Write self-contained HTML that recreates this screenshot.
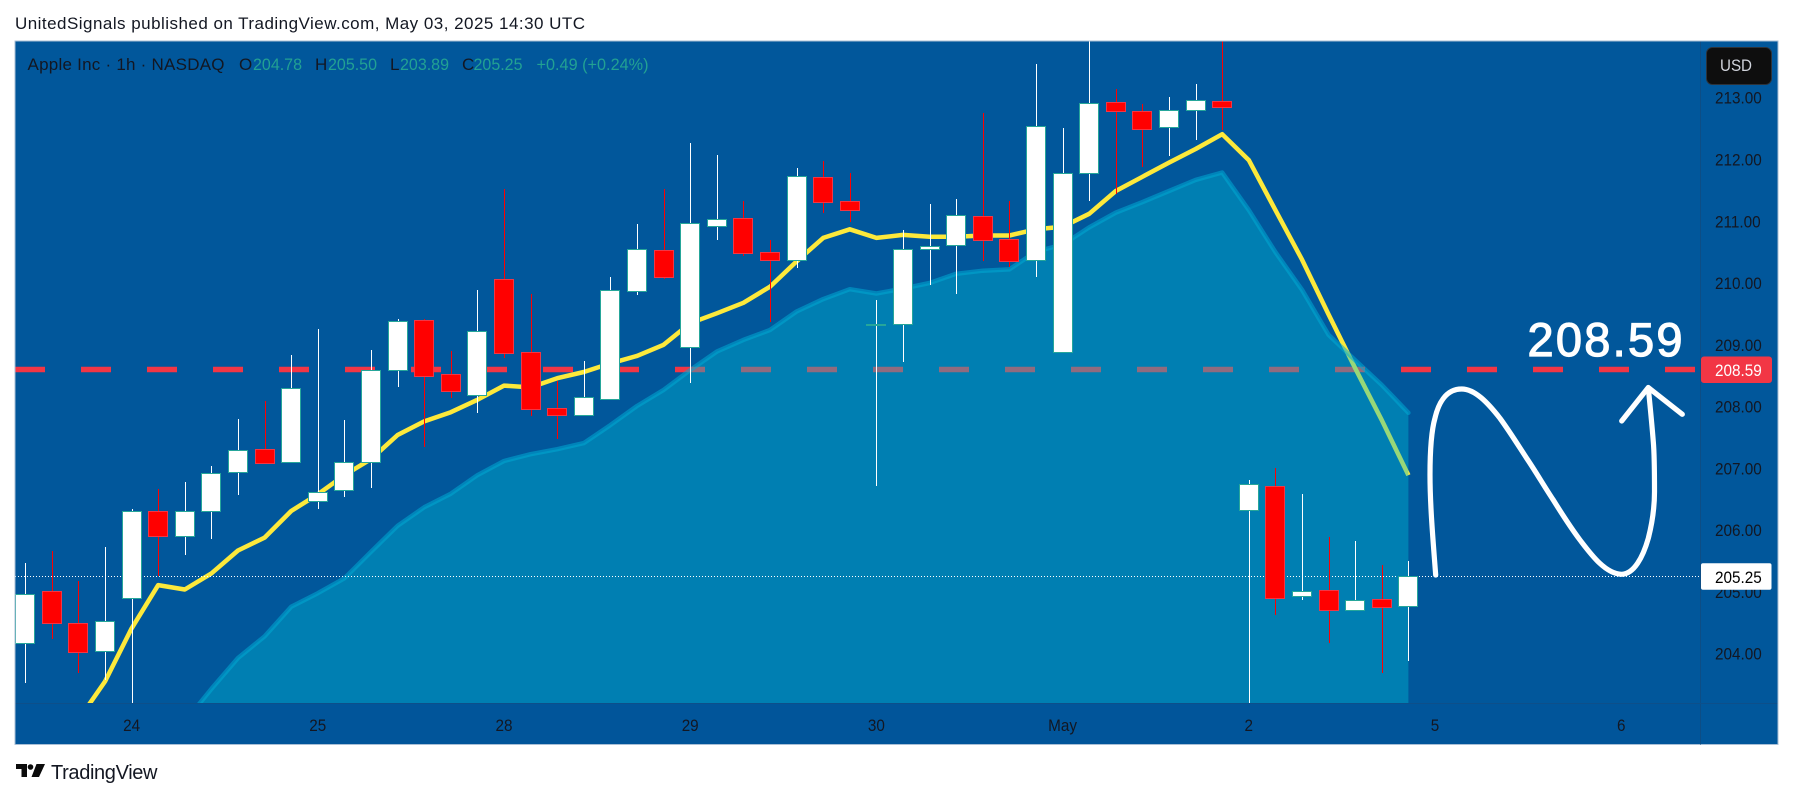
<!DOCTYPE html>
<html lang="en">
<head>
<meta charset="utf-8">
<title>Apple Inc 1h chart</title>
<style>
html,body{margin:0;padding:0;background:#fff;width:1793px;height:798px;overflow:hidden}
svg{display:block}
text{font-family:"Liberation Sans",sans-serif;font-size:17px}
</style>
</head>
<body>
<svg id="chart" xmlns="http://www.w3.org/2000/svg" width="1793" height="798" viewBox="0 0 1793 798">
  <defs>
    <clipPath id="pane-clip"><rect x="15.5" y="41.5" width="1684.5" height="661.5"/></clipPath>
  </defs>
  <rect x="0" y="0" width="1793" height="798" fill="#ffffff"/>
  <text x="15" y="29" fill="#131722" textLength="570" lengthAdjust="spacing">UnitedSignals published on TradingView.com, May 03, 2025 14:30 UTC</text>
  <rect x="15" y="41" width="1763" height="703.5" fill="#01579b" stroke="#a9bfd6" stroke-width="1"/>
  <rect x="15.5" y="703" width="1684.5" height="41" fill="#01559a"/>
  <rect x="1700" y="41.5" width="1" height="703" fill="#0d4d85"/>
  <rect x="15.5" y="703" width="1762" height="1" fill="#0d4f8a"/>
  <g id="pane-layer" clip-path="url(#pane-clip)"></g>
  <g id="time-axis"></g>
  <g id="price-axis"></g>

  <g>
    <text x="27.5" y="70" fill="#131722" textLength="197" lengthAdjust="spacing">Apple Inc · 1h · NASDAQ</text>
    <text x="239" y="70" fill="#131722">O</text>
    <text x="253" y="70" fill="#22a193" textLength="49" lengthAdjust="spacingAndGlyphs">204.78</text>
    <text x="315" y="70" fill="#131722">H</text>
    <text x="328" y="70" fill="#22a193" textLength="49" lengthAdjust="spacingAndGlyphs">205.50</text>
    <text x="390" y="70" fill="#131722">L</text>
    <text x="400" y="70" fill="#22a193" textLength="49" lengthAdjust="spacingAndGlyphs">203.89</text>
    <text x="462" y="70" fill="#131722">C</text>
    <text x="473.5" y="70" fill="#22a193" textLength="49" lengthAdjust="spacingAndGlyphs">205.25</text>
    <text x="536.5" y="70" fill="#22a193" textLength="112" lengthAdjust="spacingAndGlyphs">+0.49 (+0.24%)</text>
  </g>

  <g>
    <rect x="1706.5" y="47.5" width="65" height="37" rx="6" fill="#0e0e0e" stroke="#2d3239"/>
    <text x="1720" y="71" fill="#d1d4dc" textLength="32" lengthAdjust="spacingAndGlyphs">USD</text>
  </g>

  <g fill="none" stroke="#ffffff" stroke-width="5.2" stroke-linecap="round" stroke-linejoin="round">
    <path d="M1435.7 575 C1433 540 1430 505 1430 475 C1430 455 1431 432 1435 418 C1438 405 1445 389 1461.7 389 C1475 389 1488 403 1500 418.3 C1510 432 1518 445 1526.7 458.3 C1536 472 1544 486 1553.3 500 C1562 514 1571 528 1580 540 C1590 553 1605 574 1621.7 574.3 C1634 574 1643 557 1648.3 538.3 C1653 520 1654.5 505 1654.5 491.7 C1654.5 475 1654.5 455 1653.3 441.7 C1652 425 1650 405 1648.3 388"/>
    <path d="M1621.7 421 L1648.3 387.5 L1682.3 414.3"/>
  </g>
  <text x="1527.5" y="356" fill="#ffffff" stroke="#ffffff" stroke-width="1.2" style="font-size:47px" textLength="155" lengthAdjust="spacing">208.59</text>

  <g>
    <path d="M16 764H27V777H21.5V769H16Z M36.5 764H45L39 777H31.5Z" fill="#0b0b0b"/>
    <circle cx="30.5" cy="767" r="2.8" fill="#0b0b0b"/>
    <text x="51" y="779" fill="#131722" style="font-size:20px" textLength="106.5" lengthAdjust="spacing">TradingView</text>
  </g>
</svg>

<script>
const timeTickLabels = ["24", "25", "28", "29", "30", "May", "2", "5", "6"];
const timeTickBars = [4, 11, 18, 25, 32, 39, 46, 53, 60];
const priceTicks = [213, 212, 211, 210, 209, 208, 207, 206, 205, 204];
const lastClose = 205.25;
const levelPrice = 208.6;
const levelLabel = "208.59";

const opens = [204.17,205.01,204.49,204.04,204.90,206.31,205.90,206.31,206.94,207.31,207.11,206.47,206.65,207.11,208.60,209.40,208.52,208.18,210.06,208.88,207.97,207.87,208.13,209.87,210.53,208.96,210.93,211.06,210.51,210.38,211.71,211.32,209.33,209.33,210.55,210.61,211.08,210.71,210.37,208.89,211.78,212.93,212.78,212.52,212.80,212.94,206.33,206.71,204.93,205.03,204.70,204.88,204.78];
const highs = [205.47,205.66,205.17,205.73,206.35,206.66,206.78,207.04,207.80,208.09,208.84,209.26,207.78,208.92,209.42,209.42,208.90,209.89,211.52,209.82,208.41,208.74,210.09,210.96,211.52,212.27,212.07,211.32,210.70,211.86,211.97,211.78,209.73,210.86,211.28,211.36,212.75,211.33,213.55,212.51,213.95,213.14,212.90,213.01,213.22,213.95,206.82,207.01,206.58,205.89,205.82,205.44,205.50];
const lows = [203.53,204.24,203.69,203.57,203.10,205.25,205.60,205.85,206.57,207.07,207.09,206.34,206.53,206.69,208.31,207.35,208.14,207.90,208.78,207.85,207.48,207.86,208.11,209.80,210.06,208.39,210.70,210.43,209.37,210.25,211.13,210.98,206.72,208.73,209.97,209.83,210.36,210.26,210.09,208.89,211.33,211.44,211.88,212.06,212.32,212.48,203.10,204.62,204.87,204.17,204.70,203.69,203.89];
const closes = [204.96,204.49,204.02,204.53,206.31,205.90,206.31,206.92,207.29,207.09,208.30,206.61,207.11,208.60,209.38,208.49,208.25,209.23,208.86,207.96,207.87,208.15,209.88,210.55,210.09,210.97,211.03,210.48,210.37,211.73,211.31,211.19,209.33,210.55,210.60,211.10,210.69,210.35,212.54,211.78,212.91,212.78,212.50,212.80,212.96,212.85,206.74,204.91,205.01,204.70,204.87,204.76,205.25];

const fastMaStart = 2;
const fastMa = [202.93,203.55,204.41,205.11,205.04,205.30,205.67,205.88,206.31,206.58,206.89,207.15,207.54,207.76,207.91,208.11,208.34,208.31,208.46,208.56,208.70,208.82,209.00,209.35,209.51,209.68,209.94,210.35,210.73,210.87,210.73,210.78,210.75,210.75,210.77,210.77,210.87,210.91,211.12,211.49,211.72,211.95,212.17,212.41,211.99,211.18,210.38,209.49,208.62,207.78,206.89];

const slowMaStart = 6;
const slowMa = [202.90,203.43,203.93,204.28,204.76,204.98,205.22,205.65,206.07,206.37,206.59,206.89,207.12,207.23,207.31,207.41,207.70,208.01,208.27,208.59,208.89,209.08,209.24,209.54,209.74,209.90,209.83,209.91,210.00,210.15,210.20,210.22,210.51,210.62,210.90,211.14,211.31,211.49,211.67,211.79,211.18,210.50,209.89,209.16,208.75,208.35,207.90];

const SVG_NS = "http://www.w3.org/2000/svg";
const paneLayer = document.getElementById("pane-layer");
const timeAxis = document.getElementById("time-axis");
const priceAxis = document.getElementById("price-axis");
const paneBottom = 703;

function xScale(bar) { return 25.2 + bar * 26.6; }
function yScale(price) { return 97.7 + (213 - price) * 61.78; }

function make(tag, parent, props) {
  const el = document.createElementNS(SVG_NS, tag);
  for (const key in props) el.setAttribute(key, props[key]);
  parent.appendChild(el);
  return el;
}

function linePath(values, start) {
  return values.map(function (v, k) {
    return (k ? "L" : "M") + xScale(start + k).toFixed(1) + " " + yScale(v).toFixed(1);
  }).join(" ");
}

function condense(textEl) {
  textEl.setAttribute("lengthAdjust", "spacingAndGlyphs");
  textEl.setAttribute("textLength", (textEl.getComputedTextLength() * 0.9).toFixed(1));
}

/* level line, under the area */
const levelLine = make("line", paneLayer, {x1: 15, x2: 1696, y1: yScale(levelPrice), y2: yScale(levelPrice), stroke: "#f23645", "stroke-width": 5.5, "stroke-dasharray": "30 36"});



/* fast moving average, under the area */
const fastLine = make("path", paneLayer, {d: linePath(fastMa, fastMaStart), fill: "none", stroke: "#fde93b", "stroke-width": 4.5, "stroke-linejoin": "round"});



/* slow moving average area */
const slowEnd = slowMaStart + slowMa.length - 1;
const areaD = linePath(slowMa, slowMaStart) + " L" + xScale(slowEnd).toFixed(1) + " " + (paneBottom + 5) + " L" + xScale(slowMaStart).toFixed(1) + " " + (paneBottom + 5) + " Z";
const slowArea = make("path", paneLayer, {d: areaD, fill: "rgba(0,188,212,0.4)", stroke: "none"});


const slowLine = make("path", paneLayer, {d: linePath(slowMa, slowMaStart), fill: "none", stroke: "rgba(0,170,212,0.55)", "stroke-width": 4.5, "stroke-linejoin": "round", "stroke-linecap": "round"});



/* last price dotted line */
const lastLine = make("line", paneLayer, {x1: 15, x2: 1700, y1: Math.round(yScale(lastClose)) + 0.5, y2: Math.round(yScale(lastClose)) + 0.5, stroke: "#ffffff", "stroke-width": 1, "stroke-dasharray": "1 2"});



/* candles */
closes.forEach(function (close, i) {
  const open = opens[i];
  const up = close >= open;
  const cx = Math.round(xScale(i));
  const top = Math.round(yScale(Math.max(open, close))) + 0.5;
  const bottom = Math.round(yScale(Math.min(open, close))) + 0.5;
  const wickTop = Math.round(yScale(highs[i]));
  const wickBottom = Math.round(yScale(lows[i]));

  const wick = make("rect", paneLayer, {x: cx, y: wickTop, width: 1, height: wickBottom - wickTop, fill: up ? "#ffffff" : "#ff0000"});
  
  

  const body = make("rect", paneLayer, {
    x: cx - 9.5,
    y: top,
    width: 19,
    height: Math.max(bottom - top, 1),
    fill: up ? "#ffffff" : "#ff0000",
    stroke: up ? "#26a69a" : "#f23645",
    "stroke-width": 1
  });
  
  
});

/* time axis labels */
timeTickLabels.forEach(function (label, k) {
  const t = make("text", timeAxis, {x: xScale(timeTickBars[k]), y: 731, fill: "#131722", "text-anchor": "middle"});
  t.textContent = label;
  
  
  condense(t);
});

/* price axis labels */
priceTicks.forEach(function (tick) {
  const t = make("text", priceAxis, {x: 1715, y: yScale(tick) + 6, fill: "#131722"});
  t.textContent = tick.toFixed(2);
  
  
  condense(t);
});

/* level price tag */
const levelTag = make("rect", priceAxis, {x: 1701, y: yScale(levelPrice) - 13, width: 71, height: 26.5, rx: 3, fill: "#f23645"});


const levelTagText = make("text", priceAxis, {x: 1715, y: yScale(levelPrice) + 6.5, fill: "#ffffff"});
levelTagText.textContent = levelLabel;


condense(levelTagText);

/* last price tag */
const lastTag = make("rect", priceAxis, {x: 1701, y: yScale(lastClose) - 13.2, width: 70.5, height: 26.5, rx: 2, fill: "#ffffff"});


const lastTagText = make("text", priceAxis, {x: 1715, y: yScale(lastClose) + 6.5, fill: "#000000"});
lastTagText.textContent = lastClose.toFixed(2);


condense(lastTagText);
</script>
</body>
</html>
